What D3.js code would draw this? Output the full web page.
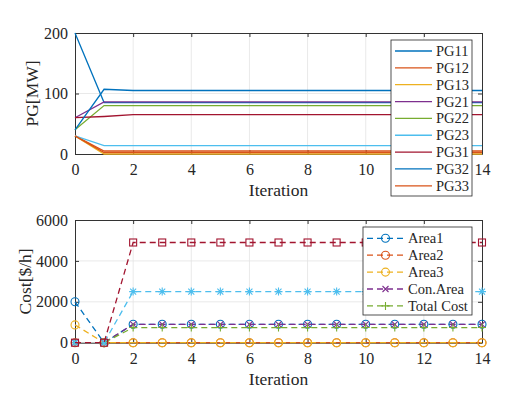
<!DOCTYPE html>
<html>
<head>
<meta charset="utf-8">
<script src="https://cdn.jsdelivr.net/npm/d3@7"></script>
<style>
    body { margin: 0; background: #fff; }
    text { font-family: "Liberation Serif", "Times New Roman", serif; fill: #262626; }
</style>
</head>
<body>
<svg id="chart" width="516" height="397"></svg>
<script>
// x values (iterations)
var iterations = [0, 1, 2, 3, 4, 5, 6, 7, 8, 9, 10, 11, 12, 13, 14];

// top panel: generator outputs [MW]
var pgNames = ["PG11", "PG12", "PG13", "PG21", "PG22", "PG23", "PG31", "PG32", "PG33"];
var pg11 = [200, 85, 85, 85, 85, 85, 85, 85, 85, 85, 85, 85, 85, 85, 85];
var pg12 = [30, 5, 5, 5, 5, 5, 5, 5, 5, 5, 5, 5, 5, 5, 5];
var pg13 = [30, 0, 0, 0, 0, 0, 0, 0, 0, 0, 0, 0, 0, 0, 0];
var pg21 = [60, 86, 86, 86, 86, 86, 86, 86, 86, 86, 86, 86, 86, 86, 86];
var pg22 = [40, 80, 80, 80, 80, 80, 80, 80, 80, 80, 80, 80, 80, 80, 80];
var pg23 = [30, 14, 14, 14, 14, 14, 14, 14, 14, 14, 14, 14, 14, 14, 14];
var pg31 = [60, 62, 65, 65, 65, 65, 65, 65, 65, 65, 65, 65, 65, 65, 65];
var pg32 = [40, 107, 105, 105, 105, 105, 105, 105, 105, 105, 105, 105, 105, 105, 105];
var pg33 = [30, 2.5, 2.5, 2.5, 2.5, 2.5, 2.5, 2.5, 2.5, 2.5, 2.5, 2.5, 2.5, 2.5, 2.5];

// bottom panel: costs [$/h]
var costNames = ["Area1", "Area2", "Area3", "Con.Area", "Total Cost"];
var area1 = [2000, 0, 900, 900, 900, 900, 900, 900, 900, 900, 900, 900, 900, 900, 900];
var area2 = [0, 0, 0, 0, 0, 0, 0, 0, 0, 0, 0, 0, 0, 0, 0];
var area3 = [870, 0, 0, 0, 0, 0, 0, 0, 0, 0, 0, 0, 0, 0, 0];
var conArea = [0, 0, 900, 900, 900, 900, 900, 900, 900, 900, 900, 900, 900, 900, 900];
var totalCost = [0, 0, 740, 740, 740, 740, 740, 740, 740, 740, 740, 740, 740, 740, 740];
var extra6 = [0, 0, 2500, 2500, 2500, 2500, 2500, 2500, 2500, 2500, 2500, 2500, 2500, 2500, 2500];
var extra7 = [0, 0, 4900, 4900, 4900, 4900, 4900, 4900, 4900, 4900, 4900, 4900, 4900, 4900, 4900];

var xTicks = [0, 2, 4, 6, 8, 10, 12, 14];
var pgTicks = [0, 100, 200];
var costTicks = [0, 2000, 4000, 6000];

var colors = ["#0072BD", "#D95319", "#EDB120", "#7E2F8E", "#77AC30", "#4DBEEE", "#A2142F"];

var svg = d3.select("#chart");
var box = { left: 75, right: 482 };
var serif = "'Liberation Serif', 'Times New Roman', serif";

function drawAxes(g, x, y, yTicks, top, bottom, ylabel, ylabelX) {
    // grid
    g.append("g").selectAll("line").data(xTicks.slice(1, -1)).enter().append("line")
        .attr("x1", x).attr("x2", x).attr("y1", top).attr("y2", bottom)
        .style("stroke", "#e3e3e3").style("stroke-width", 0.8);
    g.append("g").selectAll("line").data(yTicks.slice(1, -1)).enter().append("line")
        .attr("x1", box.left).attr("x2", box.right).attr("y1", y).attr("y2", y)
        .style("stroke", "#e3e3e3").style("stroke-width", 0.8);

    var fmt = d3.format("d");
    var axB = g.append("g").attr("transform", "translate(0," + bottom + ")")
        .call(d3.axisBottom(x).tickValues(xTicks).tickFormat(fmt).tickSizeInner(-4).tickSizeOuter(0).tickPadding(10));
    var axT = g.append("g").attr("transform", "translate(0," + top + ")")
        .call(d3.axisTop(x).tickValues(xTicks).tickSizeInner(-4).tickSizeOuter(0).tickFormat(""));
    var axL = g.append("g").attr("transform", "translate(" + box.left + ",0)")
        .call(d3.axisLeft(y).tickValues(yTicks).tickFormat(fmt).tickSizeInner(-4).tickSizeOuter(0).tickPadding(7));
    var axR = g.append("g").attr("transform", "translate(" + box.right + ",0)")
        .call(d3.axisRight(y).tickValues(yTicks).tickSizeInner(-4).tickSizeOuter(0).tickFormat(""));
    [axB, axT, axL, axR].forEach(function (a) {
        a.attr("font-family", serif).attr("font-size", 16);
        a.selectAll("path").style("stroke", "#333").style("stroke-width", 1);
        a.selectAll("line").style("stroke", "#333");
        a.selectAll("text").style("fill", "#262626");
    });

    g.append("text")
        .attr("x", (box.left + box.right) / 2)
        .attr("y", bottom + 42)
        .attr("text-anchor", "middle")
        .style("font-size", "17.5px")
        .text("Iteration");
    g.append("text")
        .attr("transform", "translate(" + ylabelX + "," + (top + bottom) / 2 + ") rotate(-90)")
        .attr("text-anchor", "middle")
        .attr("dy", "0.35em")
        .style("font-size", "17.5px")
        .text(ylabel);
}

function marker(g, type, color, cx, cy) {
    var m = g.append("g").attr("transform", "translate(" + cx + "," + cy + ")")
        .style("stroke", color).style("stroke-width", 1.1).style("fill", "none");
    if (type == "o") {
        m.append("circle").attr("r", 4);
    } else if (type == "s") {
        m.append("rect").attr("x", -3.5).attr("y", -3.5).attr("width", 7).attr("height", 7);
    } else if (type == "x") {
        m.append("path").attr("d", "M-3,-3L3,3M-3,3L3,-3");
    } else if (type == "+") {
        m.append("path").attr("d", "M-4,0L4,0M0,-4L0,4");
    } else if (type == "*") {
        m.append("path").attr("d", "M-4,0L4,0M0,-4L0,4M-3,-3L3,3M-3,3L3,-3");
    }
}

// ---------- top panel ----------
var top1 = 33, bot1 = 154;
var x = d3.scaleLinear().domain([0, 14]).range([box.left, box.right]);
var y1 = d3.scaleLinear().domain([0, 200]).range([bot1, top1]);
var g1 = svg.append("g");
drawAxes(g1, x, y1, pgTicks, top1, bot1, "PG[MW]", 32);

var pgSeries = [pg11, pg12, pg13, pg21, pg22, pg23, pg31, pg32, pg33];
var line1 = d3.line()
    .x(function (d, i) { return x(iterations[i]); })
    .y(function (d) { return y1(d); });
g1.append("g").selectAll("path").data(pgSeries).enter().append("path")
    .attr("d", line1)
    .style("fill", "none")
    .style("stroke-width", 1.3)
    .style("stroke", function (d, i) { return colors[i % colors.length]; });

// top legend
var leg1 = g1.append("g");
leg1.append("rect").attr("x", 391).attr("y", 40).attr("width", 81).attr("height", 156)
    .style("fill", "#fff").style("stroke", "#262626").style("stroke-width", 0.8);
pgNames.forEach(function (name, i) {
    var ly = 51 + i * 16.85;
    leg1.append("line").attr("x1", 395).attr("x2", 432).attr("y1", ly).attr("y2", ly)
        .style("stroke", colors[i % colors.length]).style("stroke-width", 1.3);
    leg1.append("text").attr("x", 436).attr("y", ly).attr("dy", "0.35em")
        .style("font-size", "14.5px").text(name);
});

// ---------- bottom panel ----------
var top2 = 220, bot2 = 342.7;
var y2 = d3.scaleLinear().domain([0, 6000]).range([bot2, top2]);
var g2 = svg.append("g");
drawAxes(g2, x, y2, costTicks, top2, bot2, "Cost[$/h]", 25);

var costSeries = [area1, area2, area3, conArea, totalCost, extra6, extra7];
var markers = ["o", "o", "o", "x", "+", "*", "s"];
var line2 = d3.line()
    .x(function (d, i) { return x(iterations[i]); })
    .y(function (d) { return y2(d); });
costSeries.forEach(function (s, k) {
    var sg = g2.append("g");
    sg.append("path").attr("d", line2(s))
        .style("fill", "none")
        .style("stroke", colors[k])
        .style("stroke-width", 1.3)
        .style("stroke-dasharray", "6,4");
    s.forEach(function (v, i) {
        marker(sg, markers[k], colors[k], x(iterations[i]), y2(v));
    });
});

// bottom legend
var leg2 = g2.append("g");
leg2.append("rect").attr("x", 363).attr("y", 227).attr("width", 109).attr("height", 88)
    .style("fill", "#fff").style("stroke", "#262626").style("stroke-width", 0.8);
costNames.forEach(function (name, i) {
    var ly = 238.3 + i * 16.9;
    leg2.append("line").attr("x1", 367).attr("x2", 404).attr("y1", ly).attr("y2", ly)
        .style("stroke", colors[i]).style("stroke-width", 1.3).style("stroke-dasharray", "6,4");
    marker(leg2, markers[i], colors[i], 385.5, ly);
    leg2.append("text").attr("x", 408).attr("y", ly).attr("dy", "0.35em")
        .style("font-size", "14.5px").text(name);
});
</script>
</body>
</html>
